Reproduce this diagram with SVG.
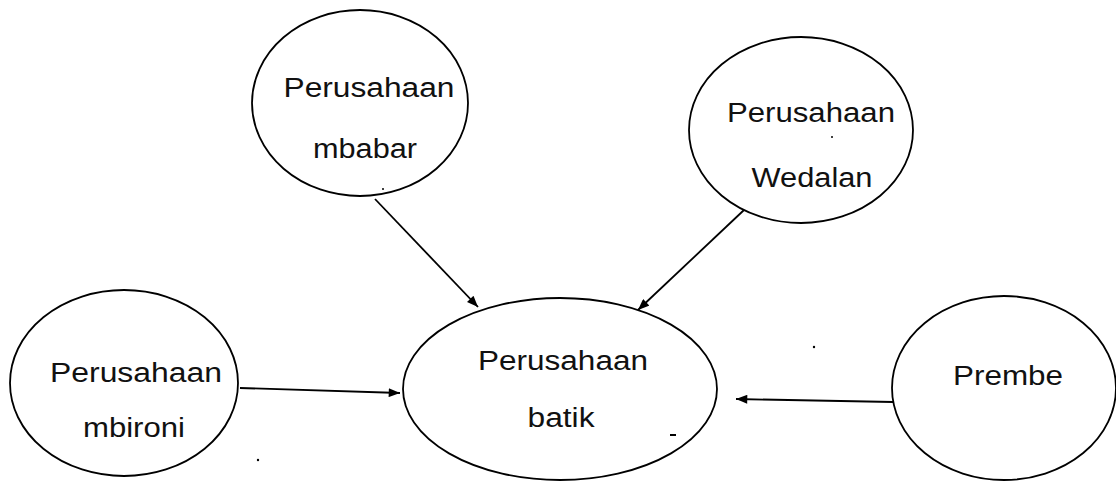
<svg xmlns="http://www.w3.org/2000/svg" width="1116" height="482" viewBox="0 0 1116 482">
<defs>
<style>
.node ellipse{fill:#fff;stroke:#000;stroke-width:1.8}
.node text{font-family:"Liberation Sans",Arial,sans-serif;font-size:27px;fill:#111;text-anchor:middle}
.conn line{stroke:#000;stroke-width:1.8;marker-end:url(#ah)}
</style>
<marker id="ah" viewBox="0 0 10 8" refX="10" refY="4" markerWidth="12" markerHeight="9" markerUnits="userSpaceOnUse" orient="auto">
<path d="M0,0 L10,4 L0,8 z" fill="#000"/>
</marker>
</defs>
<rect width="1116" height="482" fill="#fff"/>
<g id="mbabar" class="node">
<ellipse cx="360" cy="103" rx="108" ry="93"/>
<text x="369" y="97" textLength="171" lengthAdjust="spacingAndGlyphs">Perusahaan</text>
<text x="365" y="158" textLength="104" lengthAdjust="spacingAndGlyphs">mbabar</text>
</g>
<g id="wedalan" class="node">
<ellipse cx="801" cy="130" rx="112" ry="93"/>
<text x="811" y="122" textLength="168" lengthAdjust="spacingAndGlyphs">Perusahaan</text>
<text x="812" y="187" textLength="121" lengthAdjust="spacingAndGlyphs">Wedalan</text>
</g>
<g id="mbironi" class="node">
<ellipse cx="124" cy="383" rx="114" ry="93"/>
<text x="136" y="382" textLength="172" lengthAdjust="spacingAndGlyphs">Perusahaan</text>
<text x="134" y="437" textLength="102" lengthAdjust="spacingAndGlyphs">mbironi</text>
</g>
<g id="batik" class="node">
<ellipse cx="560" cy="389" rx="157" ry="91"/>
<text x="563" y="370" textLength="170" lengthAdjust="spacingAndGlyphs">Perusahaan</text>
<text x="561" y="427" textLength="67" lengthAdjust="spacingAndGlyphs">batik</text>
</g>
<g id="prembe" class="node">
<ellipse cx="1004" cy="388" rx="112" ry="92"/>
<text x="1008" y="385" textLength="110" lengthAdjust="spacingAndGlyphs">Prembe</text>
</g>
<g id="connectors" class="conn">
<line x1="375" y1="199" x2="478" y2="307"/>
<line x1="744" y1="210" x2="638" y2="310"/>
<line x1="240" y1="388" x2="400" y2="393"/>
<line x1="893" y1="402" x2="736" y2="399"/>
</g>
<g id="specks" fill="#000">
<circle cx="258" cy="460" r="1.2"/>
<circle cx="814" cy="347" r="1.2"/>
<rect x="670" y="434" width="6" height="2"/>
<circle cx="383" cy="189" r="1"/>
<circle cx="832" cy="137" r="1"/>
</g>
</svg>
